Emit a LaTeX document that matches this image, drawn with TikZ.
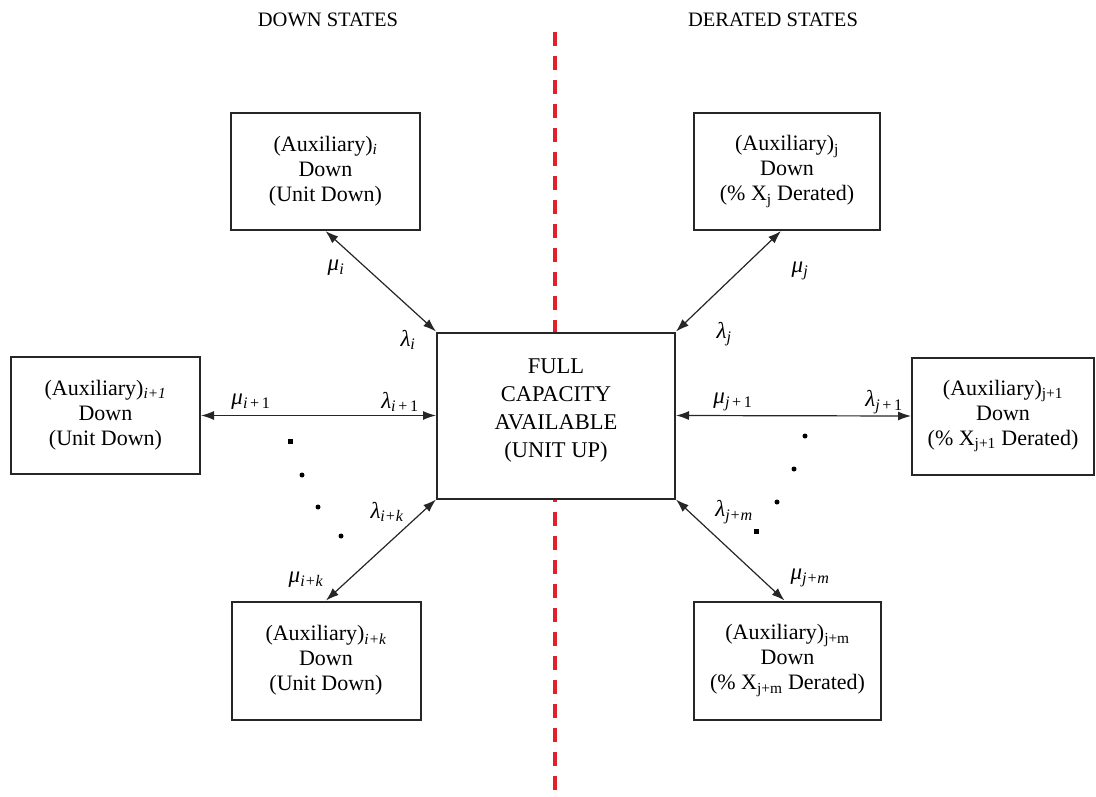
\documentclass[tikz,border=0pt]{standalone}
\usepackage{fontspec}
\setmainfont{Liberation Serif}
\usetikzlibrary{arrows.meta,calc}
\newcommand\rsub[1]{\textsubscript{#1}}
\begin{document}
\begin{tikzpicture}[x=1pt,y=-1pt,
  state/.style={draw=black!85, fill=white, line width=2pt, align=center, inner sep=0pt,
    font=\fontsize{22}{25}\selectfont},
  caption/.style={align=center, inner sep=0pt, font=\fontsize{22.5}{28}\selectfont},
  link/.style={{Latex[length=13pt,width=9pt]}-{Latex[length=13pt,width=9pt]},
    line width=1.2pt, black!85},
  rate/.style={inner sep=0pt, font=\fontsize{23}{23}\selectfont},
  heading/.style={inner sep=0pt, font=\fontsize{20.5}{20.5}\selectfont},
  dotmark/.style={fill=black, inner sep=0pt, minimum size=5pt},
  divider/.style={draw={rgb,255:red,226;green,32;blue,40}, line width=4pt,
    dash pattern=on 14pt off 10pt}]
\useasboundingbox (0,0) rectangle (1096,796);

% headings and divider
\node[heading] (hdown) at (328,20) {DOWN STATES};
\node[heading] (hder) at (773,20) {DERATED STATES};
\coordinate (divtop) at (555,32);
\coordinate (divbot) at (555,796);
\draw[divider] (divtop) -- (divbot);

% states
\node[state, minimum width=238pt, minimum height=166pt] (c) at (556,415.5) {};
\node[caption] (ctext) at (556,411)
  {FULL\\CAPACITY\\AVAILABLE\\(UNIT UP)};

\node[state, minimum width=189pt, minimum height=117pt] (tl) at (325.5,171.5)
  {(Auxiliary)\rsub{\itshape i}\\Down\\(Unit Down)};
\node[state, minimum width=186pt, minimum height=117pt] (tr) at (787,171.5)
  {(Auxiliary)\rsub{j}\\Down\\(\% X\rsub{j} Derated)};
\node[state, minimum width=189pt, minimum height=117pt] (l) at (105.5,415.5)
  {(Auxiliary)\rsub{\itshape i+1}\\Down\\(Unit Down)};
\node[state, minimum width=182pt, minimum height=117pt] (r) at (1003,416)
  {(Auxiliary)\rsub{j+1}\\Down\\(\% X\rsub{j+1} Derated)};
\node[state, minimum width=189pt, minimum height=118pt] (bl) at (326,660.5)
  {(Auxiliary)\rsub{\itshape i+k}\\Down\\(Unit Down)};
\node[state, minimum width=187pt, minimum height=118pt] (br) at (787.5,660.5)
  {(Auxiliary)\rsub{j+m}\\Down\\(\% X\rsub{j+m} Derated)};

% transitions
\draw[link] (tl.south) -- (c.north west);
\draw[link] ($(tr.south)+(-6,0)$) -- (c.north east);
\draw[link] (l.east) -- (c.west);
\draw[link] (c.east) -- (r.west);
\draw[link] (c.south west) -- (bl.north);
\draw[link] (c.south east) -- ($(br.north)+(-3,0)$);

% rates
\node[rate] (mui) at (336,268) {{\itshape μ}\rsub{\itshape i}};
\node[rate] (lai) at (408,340) {{\itshape λ}\rsub{\itshape i}};
\node[rate] (muj) at (800,271) {{\itshape μ}\rsub{\itshape j}};
\node[rate] (laj) at (724,334) {{\itshape λ}\rsub{\itshape j}};
\node[rate] (mui1) at (251,402) {{\itshape μ}\rsub{{\itshape i}\,+\,1}};
\node[rate] (lai1) at (400,402) {{\itshape λ}\rsub{{\itshape i}\,+\,1}};
\node[rate] (muj1) at (733,402) {{\itshape μ}\rsub{{\itshape j}\,+\,1}};
\node[rate] (laj1) at (884,402) {{\itshape λ}\rsub{{\itshape j}\,+\,1}};
\node[rate] (laik) at (387,512) {{\itshape λ}\rsub{\itshape i+k}};
\node[rate] (muik) at (306,580) {{\itshape μ}\rsub{\itshape i+k}};
\node[rate] (lajm) at (734,512) {{\itshape λ}\rsub{\itshape j+m}};
\node[rate] (mujm) at (810,578) {{\itshape μ}\rsub{\itshape j+m}};

% ellipsis dots
\node[dotmark] (d1) at (290,441) {};
\node[dotmark, circle] (d2) at (302,475) {};
\node[dotmark, circle] (d3) at (318,507) {};
\node[dotmark, circle] (d4) at (341,536) {};
\node[dotmark, circle] (d5) at (805,436) {};
\node[dotmark, circle] (d6) at (794,469) {};
\node[dotmark, circle] (d7) at (777,502) {};
\node[dotmark] (d8) at (756,531) {};
\end{tikzpicture}
\end{document}
